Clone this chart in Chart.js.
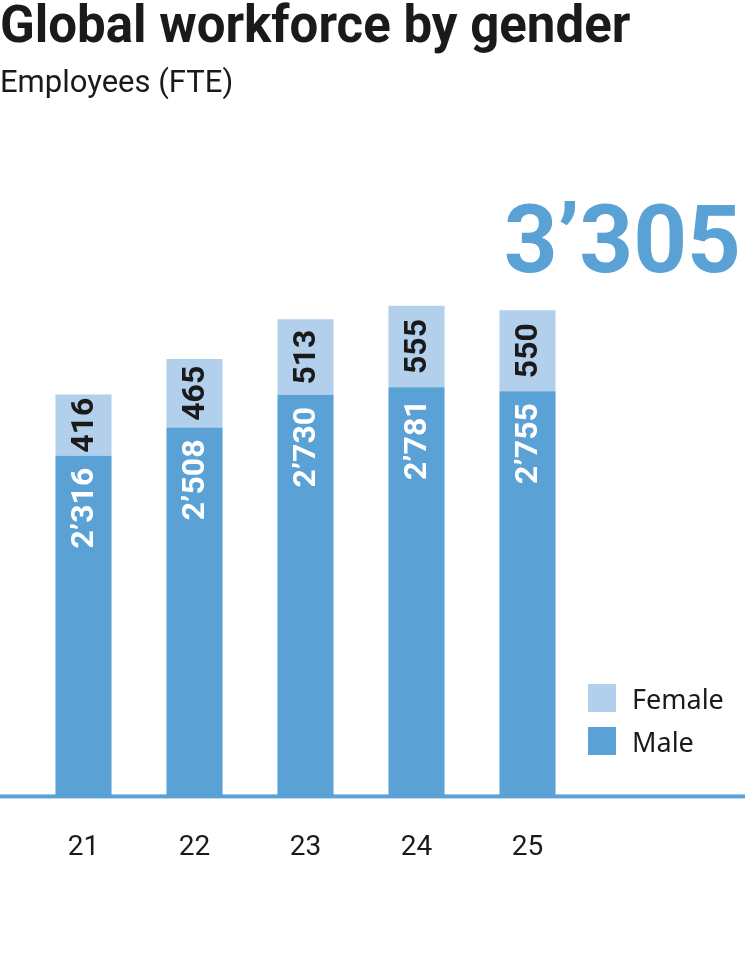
<!DOCTYPE html>
<html>
<head>
<meta charset="utf-8">
<script src="https://cdn.jsdelivr.net/npm/chart.js@4"></script>
<style>
  body { margin: 0; background: #fff; width: 745px; height: 972px; overflow: hidden; position: relative; font-family: Roboto, sans-serif; color: #1a1a1a; }
  #title { position: absolute; left: 0; top: -4px; font-size: 51px; font-weight: 700; line-height: 58px; white-space: nowrap; }
  #subtitle { position: absolute; left: 0; top: 63px; font-size: 31px; line-height: 38px; white-space: nowrap; }
  #total { position: absolute; right: 4px; top: 187px; font-size: 94px; font-weight: 700; line-height: 106px; color: #5aa1d5; }
  #legend { position: absolute; left: 588px; top: 684px; font-family: "Noto Sans", sans-serif; font-size: 27px; }
  #legend div { display: flex; align-items: center; height: 28px; margin-bottom: 15px; }
  #legend span.box { display: inline-block; width: 28px; height: 28px; margin-right: 16px; }
  #wrap { position: absolute; left: 0; top: 0; width: 745px; height: 972px; }
</style>
</head>
<body>
<div id="wrap"><canvas id="chart"></canvas></div>
<div id="title">Global workforce by gender</div>
<div id="subtitle">Employees (FTE)</div>
<div id="total"></div>
<div id="legend"></div>
<script>
const years = ['21', '22', '23', '24', '25'];
const male = [2316, 2508, 2730, 2781, 2755];
const female = [416, 465, 513, 555, 550];

const maleColor = '#5aa1d5';
const femaleColor = '#b2cfec';

function fmt(n) {
    const s = String(n);
    return s.length > 3 ? s.slice(0, -3) + '\u2019' + s.slice(-3) : s;
}

document.getElementById('total').textContent = fmt(male[male.length - 1] + female[female.length - 1]);
document.getElementById('legend').innerHTML =
    `<div><span class="box" style="background:${femaleColor}"></span>Female</div>` +
    `<div><span class="box" style="background:${maleColor}"></span>Male</div>`;

// baseline across the whole width + rotated labels inside bars
const barStuff = {
    id: 'barStuff',
    afterDatasetsDraw(chart) {
        const c = chart.ctx;
        const y0 = chart.scales.y.getPixelForValue(0);
        c.save();
        c.fillStyle = maleColor;
        c.fillRect(0, y0 - 2, chart.width, 4);
        c.font = '700 32px Roboto, sans-serif';
        c.textBaseline = 'middle';
        chart.data.datasets.forEach((ds, di) => {
            chart.getDatasetMeta(di).data.forEach((bar, i) => {
                c.save();
                if (di === 0) {
                    c.translate(bar.x, bar.y + 12);
                    c.textAlign = 'right';
                    c.fillStyle = '#fff';
                } else {
                    c.translate(bar.x, (bar.y + bar.base) / 2);
                    c.textAlign = 'center';
                    c.fillStyle = '#1a1a1a';
                }
                c.rotate(-Math.PI / 2);
                c.fillText(fmt(ds.data[i]), 0, 1);
                c.restore();
            });
        });
        c.restore();
    }
};

new Chart(document.getElementById('chart'), {
    type: 'bar',
    data: {
        labels: years,
        datasets: [
            { label: 'Male', data: male, backgroundColor: maleColor },
            { label: 'Female', data: female, backgroundColor: femaleColor }
        ]
    },
    options: {
        responsive: true,
        maintainAspectRatio: false,
        animation: false,
        datasets: { bar: { categoryPercentage: 1, barPercentage: 0.505 } },
        layout: { padding: { left: 28, right: 162, top: 208, bottom: 80 } },
        plugins: { legend: { display: false }, tooltip: { enabled: false } },
        scales: {
            x: {
                stacked: true,
                grid: { display: false },
                border: { display: false },
                ticks: { color: '#1a1a1a', font: { family: 'Roboto', size: 28 }, padding: 27 }
            },
            y: { stacked: true, display: false, min: 0, max: 4000 }
        }
    },
    plugins: [barStuff]
});
</script>
</body>
</html>
